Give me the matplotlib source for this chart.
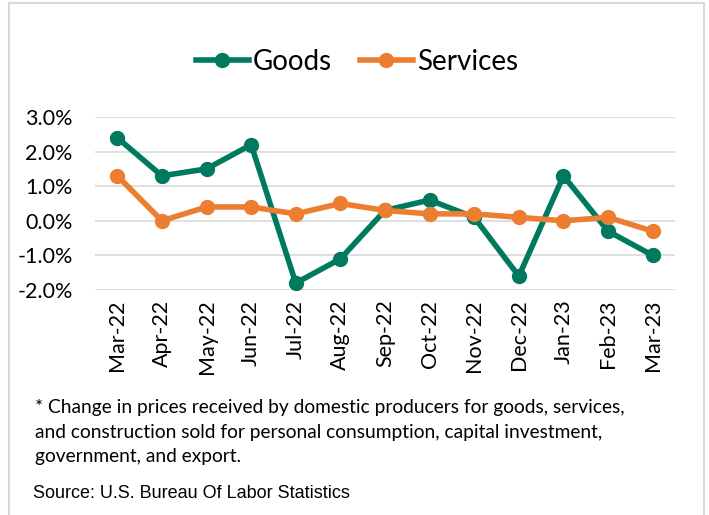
import matplotlib
matplotlib.use('Agg')
import matplotlib.pyplot as plt
from matplotlib.patches import Rectangle
from matplotlib.ticker import FuncFormatter

# monthly change, percent
months = ['Mar-22', 'Apr-22', 'May-22', 'Jun-22', 'Jul-22', 'Aug-22', 'Sep-22',
          'Oct-22', 'Nov-22', 'Dec-22', 'Jan-23', 'Feb-23', 'Mar-23']
goods = [2.4, 1.3, 1.5, 2.2, -1.8, -1.1, 0.3, 0.6, 0.1, -1.6, 1.3, -0.3, -1.0]
services = [1.3, 0.0, 0.4, 0.4, 0.2, 0.5, 0.3, 0.2, 0.2, 0.1, 0.0, 0.1, -0.3]

green = '#007A5E'
orange = '#ED7D31'
body_font = ['Lato', 'DejaVu Sans']

fig = plt.figure(figsize=(7.09, 5.15), dpi=100)

# light grey frame around the whole chart (bottom edge runs off the image)
fig.patches.append(Rectangle((9 / 709, -0.05), 695 / 709, 1.05 - 3 / 515,
                             transform=fig.transFigure, fill=False,
                             edgecolor='#D9D9D9', linewidth=1.5))

ax = fig.add_axes([95 / 709, 1 - 290 / 515, 580 / 709, 173 / 515])
x = range(len(months))
ax.plot(x, goods, color=green, linewidth=4, marker='o', markersize=10,
        label='Goods', zorder=3)
ax.plot(x, services, color=orange, linewidth=4, marker='o', markersize=10,
        label='Services', zorder=3)

ax.set_xlim(-0.5, len(months) - 0.5)
ax.set_ylim(-2.0, 3.0)
ax.set_yticks([-2, -1, 0, 1, 2, 3])
ax.yaxis.set_major_formatter(FuncFormatter(lambda v, p: '%.1f%%' % v))
ax.set_xticks(list(x))
ax.set_xticklabels(months, rotation=90)
ax.grid(axis='y', color='#D9D9D9', linewidth=1.2)
ax.set_axisbelow(True)
for s in ax.spines.values():
    s.set_visible(False)
ax.tick_params(length=0, labelsize=15.5)
ax.tick_params(axis='y', pad=16)
ax.tick_params(axis='x', pad=7)
for lbl in ax.get_xticklabels() + ax.get_yticklabels():
    lbl.set_family(body_font)

leg = fig.legend(loc='center', bbox_to_anchor=(357 / 709, 1 - 62 / 515), ncol=2,
                 frameon=False, prop={'family': body_font, 'size': 20},
                 handlelength=1.9, handletextpad=0.15, columnspacing=1.0)

note = ('* Change in prices received by domestic producers for goods, services,\n'
        'and construction sold for personal consumption, capital investment,\n'
        'government, and export.')
fig.text(35 / 709, 1 - 399 / 515, note, fontsize=13.8, family=body_font,
         va='top', ha='left', linespacing=1.55)
fig.text(33 / 709, 1 - 494 / 515, 'Source: U.S. Bureau Of Labor Statistics',
         fontsize=13, family=['Liberation Sans', 'DejaVu Sans'],
         va='center', ha='left')

fig.savefig('out.png', dpi=100)
